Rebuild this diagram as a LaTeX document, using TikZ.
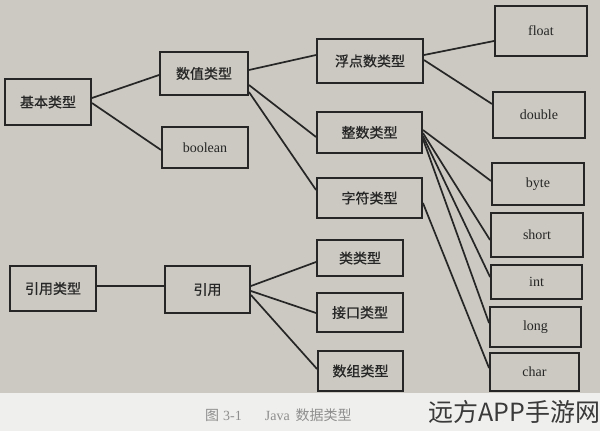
\documentclass[tikz,border=0pt]{standalone}
\usepackage{fontspec}
\setmainfont{Liberation Serif}
\newfontfamily\cjk[FakeBold=0.6]{Noto Sans CJK SC}
\newfontfamily\cjkplain{Noto Sans CJK SC}
\definecolor{paper}{HTML}{CBC9C1}
\definecolor{band}{HTML}{EFEFED}
\definecolor{ink}{HTML}{262626}
\definecolor{capgray}{HTML}{8E8E8E}
\definecolor{wmgray}{HTML}{3A3A3A}
\begin{document}
\begin{tikzpicture}[x=1pt,y=-1pt,
  box/.style={draw=ink, line width=1.9pt, fill=paper, inner sep=0pt, text=ink,
    font=\fontsize{14}{15}\selectfont},
  link/.style={draw=ink, line width=1.7pt}]
\useasboundingbox (0,0) rectangle (600,431);
\fill[paper] (0,0) rectangle (600,393);
\fill[band] (0,393) rectangle (600,431);

% left column
\node[box, minimum width=86pt, minimum height=46pt] (jb) at (48,102) {\cjk 基本类型};
\node[box, minimum width=86pt, minimum height=45pt] (yylx) at (53,288.5) {\cjk 引用类型};
% second column
\node[box, minimum width=88pt, minimum height=43pt] (sz) at (204,73.5) {\cjk 数值类型};
\node[box, minimum width=86pt, minimum height=41pt] (bool) at (205,147.5) {boolean};
\node[box, minimum width=85pt, minimum height=47pt] (yy) at (207.5,289.5) {\cjk 引用};
% third column
\node[box, minimum width=106pt, minimum height=44pt] (fd) at (370,61) {\cjk 浮点数类型};
\node[box, minimum width=105pt, minimum height=41pt] (zs) at (369.5,132.5) {\cjk 整数类型};
\node[box, minimum width=105pt, minimum height=40pt] (zf) at (369.5,198) {\cjk 字符类型};
\node[box, minimum width=86pt, minimum height=36pt] (lei) at (360,258) {\cjk 类类型};
\node[box, minimum width=86pt, minimum height=39pt] (jk) at (360,312.5) {\cjk 接口类型};
\node[box, minimum width=85pt, minimum height=40pt] (sg) at (360.5,371) {\cjk 数组类型};
% fourth column
\node[box, minimum width=92pt, minimum height=50pt] (float) at (541,31) {float};
\node[box, minimum width=92pt, minimum height=46pt] (double) at (539,115) {double};
\node[box, minimum width=92pt, minimum height=42pt] (byte) at (538,184) {byte};
\node[box, minimum width=92pt, minimum height=44pt] (short) at (537,235) {short};
\node[box, minimum width=91pt, minimum height=34pt] (int) at (536.5,282) {int};
\node[box, minimum width=91pt, minimum height=40pt] (long) at (535.5,327) {long};
\node[box, minimum width=89pt, minimum height=38pt] (char) at (534.5,372) {char};

% connectors
\draw[link] ([yshift=4pt]jb.east) -- ([yshift=-1.5pt]sz.west);
\draw[link] ([yshift=-1pt]jb.east) -- ([yshift=-2.5pt]bool.west);
\draw[link] ([yshift=3.5pt]sz.east) -- ([yshift=6pt]fd.west);
\draw[link] ([yshift=-11.5pt]sz.east) -- ([yshift=-4.5pt]zs.west);
\draw[link] ([yshift=-18.5pt]sz.east) -- ([yshift=8pt]zf.west);
\draw[link] ([yshift=6pt]fd.east) -- ([yshift=-10pt]float.west);
\draw[link] ([yshift=1pt]fd.east) -- ([yshift=11pt]double.west);
\draw[link] ([yshift=2.5pt]zs.east) -- ([yshift=3pt]byte.west);
\draw[link] ([yshift=-0.5pt]zs.east) -- ([yshift=-5pt]short.west);
\draw[link] ([yshift=-3.5pt]zs.east) -- ([yshift=5pt]int.west);
\draw[link] ([yshift=-6.5pt]zs.east) -- ([yshift=4pt]long.west);
\draw[link] ([yshift=-5pt]zf.east) -- ([yshift=4pt]char.west);
\draw[link] ([yshift=2.5pt]yylx.east) -- ([yshift=3.5pt]yy.west);
\draw[link] ([yshift=3.5pt]yy.east) -- ([yshift=-4pt]lei.west);
\draw[link] ([yshift=-1.5pt]yy.east) -- ([yshift=-0.5pt]jk.west);
\draw[link] ([yshift=-5.5pt]yy.east) -- ([yshift=2pt]sg.west);

% caption and watermark
\node[anchor=west, inner sep=0pt, text=capgray, font=\fontsize{14}{15}\selectfont] (caption) at (205,415)
  {{\cjkplain 图}\hspace{4pt}3-1\hspace{23pt}Java\hspace{6pt}{\cjkplain 数据类型}};
\node[anchor=west, inner sep=0pt, text=wmgray, font=\cjkplain\fontsize{25}{26}\selectfont] (wm) at (428,412) {远方APP手游网};
\end{tikzpicture}
\end{document}
